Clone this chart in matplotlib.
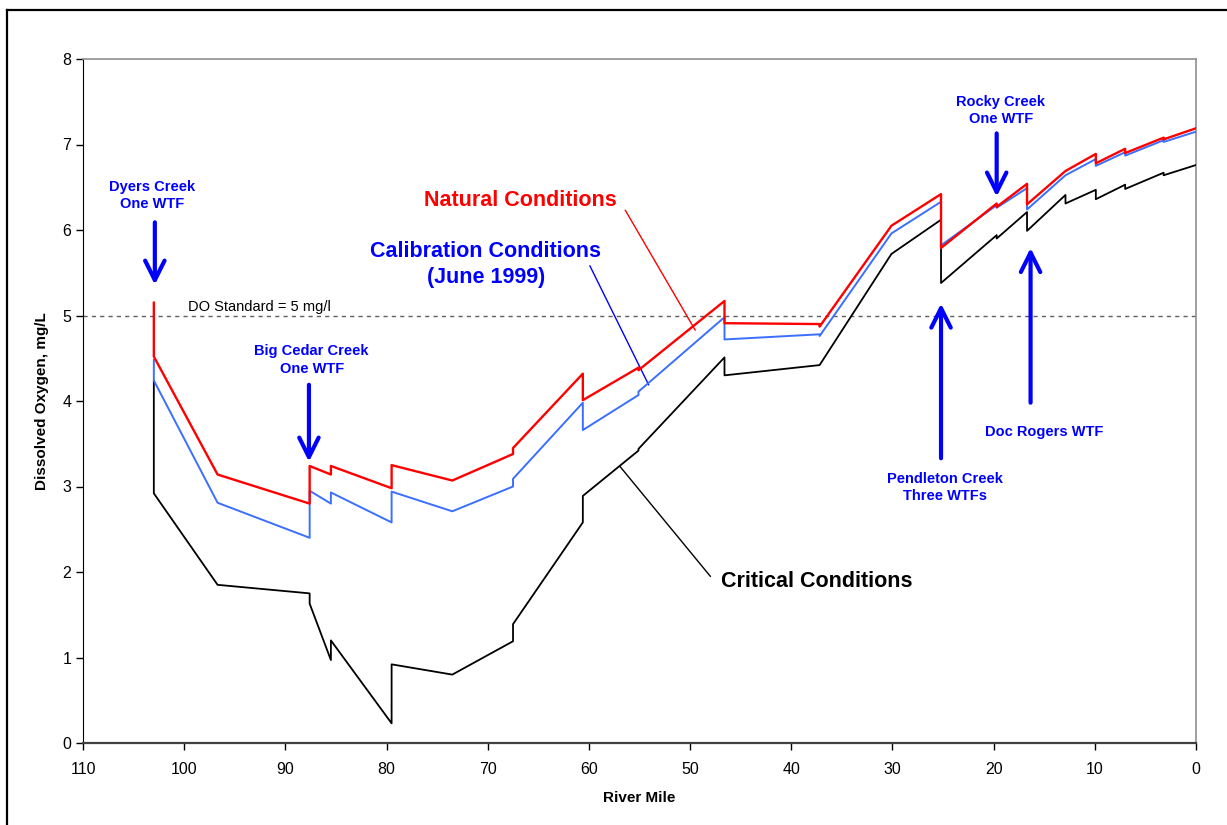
import matplotlib
matplotlib.use('Agg')
import matplotlib.pyplot as plt
from matplotlib.lines import Line2D

plt.rcParams['font.family'] = ['Liberation Sans', 'DejaVu Sans']

# River mile / dissolved oxygen profiles (repeated miles are point-source jumps)
natural_mile = [103.0, 103.0, 96.7, 87.6, 87.6, 85.5, 85.5, 79.5, 79.5, 73.5,
                67.5, 67.5, 60.6, 60.6, 55.1, 55.1, 46.6, 46.6, 37.2, 37.2,
                30.1, 25.2, 25.2, 19.7, 19.7, 16.7, 16.7, 12.9, 9.9, 9.9,
                7.0, 7.0, 3.2, 3.2, 0.0]
natural_do = [5.15, 4.52, 3.14, 2.80, 3.24, 3.14, 3.24, 2.98, 3.25, 3.07,
              3.38, 3.45, 4.32, 4.01, 4.39, 4.36, 5.17, 4.91, 4.90, 4.87,
              6.05, 6.42, 5.79, 6.31, 6.27, 6.54, 6.30, 6.69, 6.89, 6.78,
              6.95, 6.90, 7.08, 7.06, 7.19]

calib_mile = [103.0, 103.0, 96.7, 87.6, 87.6, 85.5, 85.5, 79.5, 79.5, 73.5,
              67.5, 67.5, 60.6, 60.6, 55.1, 55.1, 46.6, 46.6, 37.2, 37.2,
              30.1, 25.2, 25.2, 19.7, 19.7, 16.7, 16.7, 12.9, 9.9, 9.9,
              7.0, 7.0, 3.2, 3.2, 0.0]
calib_do = [4.48, 4.24, 2.81, 2.40, 2.95, 2.80, 2.93, 2.58, 2.94, 2.71,
            3.00, 3.09, 3.98, 3.66, 4.07, 4.11, 4.98, 4.72, 4.78, 4.76,
            5.96, 6.33, 5.82, 6.29, 6.26, 6.49, 6.24, 6.64, 6.83, 6.75,
            6.91, 6.87, 7.05, 7.03, 7.15]

critical_mile = [103.0, 103.0, 96.7, 87.6, 87.6, 85.5, 85.5, 79.5, 79.5, 73.5,
                 67.5, 67.5, 60.6, 60.6, 55.1, 55.1, 46.6, 46.6, 37.2,
                 30.1, 25.2, 25.2, 19.7, 19.7, 16.7, 16.7, 12.9, 12.9, 9.9, 9.9,
                 7.0, 7.0, 3.2, 3.2, 0.0]
critical_do = [4.23, 2.92, 1.85, 1.75, 1.63, 0.97, 1.20, 0.23, 0.92, 0.80,
               1.19, 1.39, 2.58, 2.89, 3.42, 3.44, 4.51, 4.30, 4.42,
               5.72, 6.12, 5.38, 5.94, 5.90, 6.21, 5.99, 6.41, 6.31, 6.47, 6.36,
               6.53, 6.48, 6.67, 6.64, 6.76]

do_standard = 5.0
x_ticks = list(range(0, 111, 10))
y_ticks = list(range(0, 9))

fig = plt.figure(figsize=(12.27, 8.25), dpi=100)
ax = fig.add_axes([83 / 1227, 1 - 743 / 825, (1196 - 83) / 1227, (743 - 59) / 825])

ax.plot(critical_mile, critical_do, color='black', lw=1.3, zorder=3)
ax.plot(calib_mile, calib_do, color='#3a6fff', lw=1.4, zorder=4)
ax.plot(natural_mile, natural_do, color='#ff0000', lw=1.7, zorder=5)
ax.axhline(do_standard, color='#606060', lw=1.0, ls=(0, (3, 3)), zorder=2)

ax.set_xlim(110, 0)
ax.set_ylim(0, 8)
ax.set_xticks(x_ticks)
ax.set_yticks(y_ticks)
ax.tick_params(axis='both', direction='out', length=5, width=1, labelsize=11.5)
ax.tick_params(axis='x', pad=9)
ax.set_xlabel('River Mile', fontsize=11, fontweight='bold', labelpad=10)
ax.set_ylabel('Dissolved Oxygen, mg/L', fontsize=11, fontweight='bold', labelpad=9.5)

for side in ('top', 'right'):
    ax.spines[side].set_color('#909090')
    ax.spines[side].set_linewidth(1.2)
ax.spines['left'].set_color('black')
ax.spines['bottom'].set_color('#404040')
ax.spines['bottom'].set_linewidth(1.6)

ax.text(99.6, 5.02, 'DO Standard = 5 mg/l', fontsize=10.5, ha='left', va='bottom')

# series labels with pointer lines
ax.text(66.8, 6.34, 'Natural Conditions', color='#ff0000', fontsize=15.5,
        fontweight='bold', ha='center', va='center')
ax.plot([56.4, 49.5], [6.23, 4.83], color='#ff0000', lw=1.0)

ax.text(70.2, 5.60, 'Calibration Conditions\n(June 1999)', color='#0000ff', fontsize=15.5,
        fontweight='bold', ha='center', va='center', linespacing=1.3)
ax.plot([59.9, 54.1], [5.58, 4.19], color='#0000ff', lw=1.0)

ax.text(37.5, 1.89, 'Critical Conditions', color='black', fontsize=15.5,
        fontweight='bold', ha='center', va='center')
ax.plot([48.0, 56.9], [1.95, 3.23], color='black', lw=1.0)

# treatment facility discharges
arrow_style = dict(arrowstyle='->,head_length=0.7,head_width=0.35', lw=3,
                   color='#0000ff', mutation_scale=20, shrinkA=0, shrinkB=0)
facilities = [
    ('Dyers Creek\nOne WTF', (103.2, 6.40), (102.9, 6.09), (102.9, 5.36)),
    ('Big Cedar Creek\nOne WTF', (87.4, 4.48), (87.67, 4.19), (87.67, 3.29)),
    ('Rocky Creek\nOne WTF', (19.3, 7.40), (19.7, 7.13), (19.7, 6.39)),
    ('Pendleton Creek\nThree WTFs', (24.8, 2.99), (25.2, 3.33), (25.2, 5.14)),
    ('Doc Rogers WTF', (15.0, 3.64), (16.35, 3.98), (16.35, 5.79)),
]
for label, text_pos, tail, tip in facilities:
    ax.text(text_pos[0], text_pos[1], label, color='#0000ff', fontsize=10.5,
            fontweight='bold', ha='center', va='center', linespacing=1.3)
    ax.annotate('', xy=tip, xytext=tail, arrowprops=arrow_style)

# outer frame (top and left edges)
fig.add_artist(Line2D([7 / 1227, 7 / 1227], [0, 1 - 10 / 825],
                      transform=fig.transFigure, color='black', lw=1.6))
fig.add_artist(Line2D([7 / 1227, 1], [1 - 10 / 825, 1 - 10 / 825],
                      transform=fig.transFigure, color='black', lw=1.6))

fig.savefig('out.png', dpi=100)
